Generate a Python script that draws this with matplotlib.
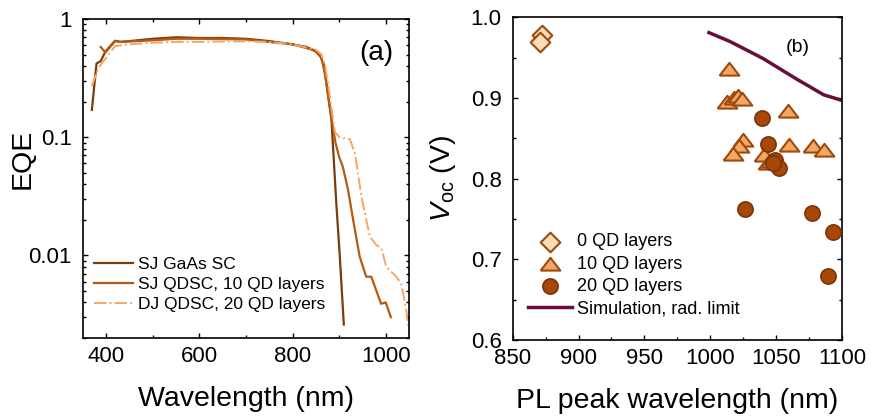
import matplotlib
matplotlib.use('Agg')
import matplotlib.pyplot as plt
from matplotlib.ticker import MultipleLocator, FixedLocator, FuncFormatter, LogLocator, NullFormatter

plt.rcParams['font.family'] = ['Liberation Sans', 'DejaVu Sans']
plt.rcParams['mathtext.fontset'] = 'custom'
plt.rcParams['mathtext.rm'] = 'Liberation Sans'
plt.rcParams['mathtext.it'] = 'Liberation Sans:italic'

# (a) EQE spectra
wl_gaas = [369, 379, 388, 398, 419, 430, 450, 500, 550, 600, 650, 700, 750, 800, 830, 850, 860, 868, 875, 883.5, 894, 901, 910]
eqe_gaas = [0.17, 0.42, 0.44, 0.53, 0.655, 0.64, 0.65, 0.68, 0.70, 0.69, 0.69, 0.68, 0.65, 0.61, 0.58, 0.53, 0.48, 0.40, 0.25, 0.14, 0.027, 0.0104, 0.0026]

wl_qd10 = [388, 398, 419, 430, 450, 500, 550, 600, 700, 800, 850, 862, 870, 878, 884, 892, 900, 908, 919, 930, 944, 958, 969, 990, 1000, 1011]
eqe_qd10 = [0.58, 0.52, 0.65, 0.64, 0.645, 0.66, 0.68, 0.68, 0.67, 0.61, 0.54, 0.47, 0.33, 0.2, 0.14, 0.09, 0.068, 0.056, 0.036, 0.02, 0.0098, 0.0066, 0.0066, 0.0039, 0.004, 0.003]

wl_dj20 = [369, 380, 388, 419, 450, 500, 550, 600, 650, 700, 750, 800, 850, 862, 870, 877, 884, 891, 901, 923, 934, 948, 966, 980, 991, 1001, 1023, 1033, 1044, 1050]
eqe_dj20 = [0.27, 0.36, 0.41, 0.59, 0.61, 0.63, 0.64, 0.64, 0.645, 0.645, 0.64, 0.61, 0.55, 0.5, 0.4, 0.27, 0.17, 0.11, 0.1, 0.096, 0.073, 0.031, 0.0144, 0.0122, 0.0115, 0.008, 0.0066, 0.0058, 0.0035, 0.0023]

# (b) Voc vs PL peak
pl_0 = [872, 871]
voc_0 = [0.978, 0.970]
pl_10 = [1014, 1013, 1018, 1021, 1024, 1059, 1025, 1022, 1017, 1060, 1078, 1086, 1041, 1044, 1046]
voc_10 = [0.936, 0.895, 0.900, 0.903, 0.899, 0.884, 0.848, 0.840, 0.831, 0.842, 0.840, 0.836, 0.829, 0.819, 0.822]
pl_20 = [1039, 1044, 1049, 1052, 1048, 1026, 1077, 1093, 1089]
voc_20 = [0.875, 0.843, 0.823, 0.813, 0.819, 0.762, 0.758, 0.734, 0.679]
sim_pl = [999, 1015, 1040, 1065, 1086, 1100]
sim_voc = [0.981, 0.970, 0.949, 0.924, 0.904, 0.897]

# wide, flat triangle like the original
tri = [(-1, -0.62), (1, -0.62), (0, 0.68), (-1, -0.62)]

fig = plt.figure(figsize=(8.71, 4.19), dpi=100)
ax1 = fig.add_axes([0.0953, 0.1933, 0.3743, 0.7614])
ax2 = fig.add_axes([0.5886, 0.1885, 0.3781, 0.7702])

ax1.plot(wl_gaas, eqe_gaas, color='#7a3c0c', lw=1.6, label='SJ GaAs SC')
ax1.plot(wl_qd10, eqe_qd10, color='#b55a12', lw=1.6, label='SJ QDSC, 10 QD layers')
ax1.plot(wl_dj20, eqe_dj20, color='#f6a565', lw=1.4, ls='-.', label='DJ QDSC, 20 QD layers')
ax1.set_yscale('log')
ax1.set_xlim(350, 1050)
ax1.set_ylim(0.002, 1)
ax1.xaxis.set_major_locator(MultipleLocator(200))
ax1.xaxis.set_minor_locator(MultipleLocator(100))
ax1.yaxis.set_major_locator(FixedLocator([0.01, 0.1, 1]))
ax1.yaxis.set_major_formatter(FuncFormatter(lambda v, p: '%g' % v))
ax1.yaxis.set_minor_locator(LogLocator(base=10, subs=range(2, 10)))
ax1.yaxis.set_minor_formatter(NullFormatter())
ax1.set_xlabel('Wavelength (nm)', fontsize=20.5)
ax1.set_ylabel('EQE', fontsize=20.5)
ax1.xaxis.set_label_coords(0.5, -0.15)
ax1.yaxis.set_label_coords(-0.145, 0.56)
ax1.text(0.899, 0.893, '(a)', transform=ax1.transAxes, fontsize=20, ha='center', va='center')
ax1.legend(loc='lower left', bbox_to_anchor=(0.034, 0.08), frameon=False, fontsize=12.5,
           handlelength=2.25, handletextpad=0.3, labelspacing=0.3, borderaxespad=0, borderpad=0)

ax2.plot(sim_pl, sim_voc, color='#6b0d3c', lw=2.5, label='Simulation, rad. limit')
ax2.scatter(pl_0, voc_0, marker='D', s=100, facecolor='#fddcb8', edgecolor='#9c4a0e', lw=1.5, label='0 QD layers', zorder=3)
ax2.scatter(pl_10, voc_10, marker=tri, s=200, facecolor='#f4a664', edgecolor='#9c4a0e', lw=1.5, label='10 QD layers', zorder=3)
ax2.scatter(pl_20, voc_20, marker='o', s=120, facecolor='#a84808', edgecolor='#7a3405', lw=1.2, label='20 QD layers', zorder=3)
ax2.set_xlim(850, 1100)
ax2.set_ylim(0.6, 1.0)
ax2.xaxis.set_major_locator(MultipleLocator(50))
ax2.xaxis.set_minor_locator(MultipleLocator(25))
ax2.yaxis.set_major_locator(MultipleLocator(0.1))
ax2.yaxis.set_minor_locator(MultipleLocator(0.05))
ax2.yaxis.set_major_formatter(FuncFormatter(lambda v, p: '%.1f' % v))
ax2.set_xlabel('PL peak wavelength (nm)', fontsize=20.5)
ax2.set_ylabel(r'$V_{\rm oc}$ (V)', fontsize=20.5)
ax2.xaxis.set_label_coords(0.5, -0.15)
ax2.yaxis.set_label_coords(-0.165, 0.502)
ax2.text(0.866, 0.905, '(b)', transform=ax2.transAxes, fontsize=14, ha='center', va='center')
h, l = ax2.get_legend_handles_labels()
order = [1, 2, 3, 0]
ax2.legend([h[i] for i in order], [l[i] for i in order], loc='lower left', bbox_to_anchor=(0.046, 0.071),
           frameon=False, fontsize=13, handlelength=2.45, handletextpad=0.26, labelspacing=0.29,
           borderaxespad=0, borderpad=0)

for ax in (ax1, ax2):
    for s in ax.spines.values():
        s.set_linewidth(1.2)
    ax.tick_params(which='both', direction='in', labelsize=16, width=1.0)
    ax.tick_params(which='major', length=3.8)
    ax.tick_params(which='minor', length=2.3)
    ax.tick_params(axis='x', which='both', pad=5.5)
    ax.tick_params(axis='y', which='both', pad=8)
ax1.tick_params(which='both', top=True, right=True)
ax2.tick_params(which='both', right=True)

fig.savefig('out.png', dpi=100)
